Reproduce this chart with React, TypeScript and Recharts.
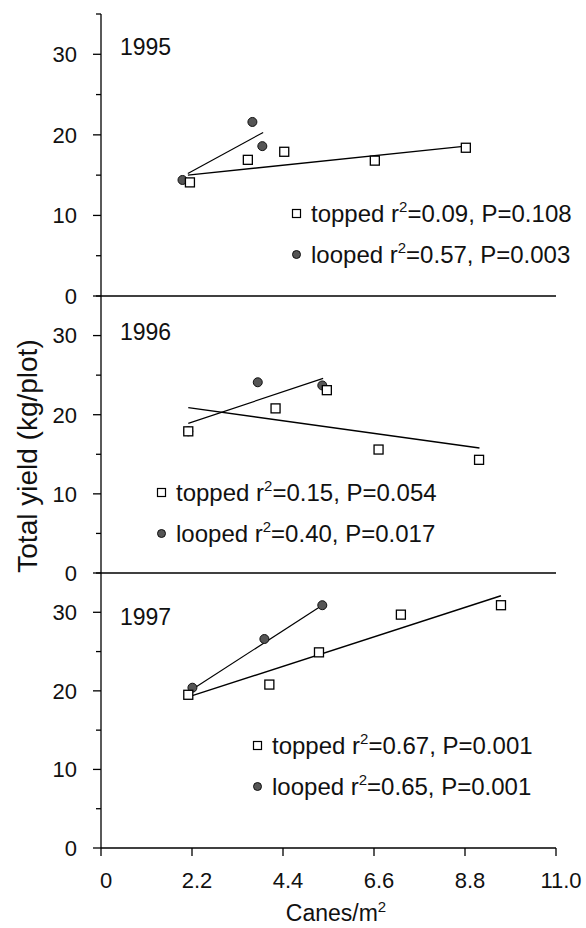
import React from "react"
import { ComposedChart, Scatter, XAxis, YAxis, Legend, Customized } from "recharts"

// axis ticks
const xTicks = [0, 2.2, 4.4, 6.6, 8.8, 11.0]
const yTicks = [0, 5, 10, 15, 20, 25, 30, 35]

const years = ["1995", "1996", "1997"]

// topped canes (open squares)
const toppedX1995 = [2.15, 3.55, 4.43, 6.62, 8.82]
const toppedY1995 = [14.1, 16.9, 17.9, 16.8, 18.4]
const toppedX1996 = [2.11, 4.22, 5.46, 6.71, 9.14]
const toppedY1996 = [17.9, 20.8, 23.1, 15.6, 14.3]
const toppedX1997 = [2.11, 4.07, 5.27, 7.25, 9.67]
const toppedY1997 = [19.5, 20.8, 24.9, 29.7, 30.9]

// looped canes (filled circles)
const loopedX1995 = [1.97, 3.66, 3.9]
const loopedY1995 = [14.4, 21.6, 18.6]
const loopedX1996 = [2.11, 3.79, 5.35]
const loopedY1996 = [17.9, 24.1, 23.7]
const loopedX1997 = [2.21, 3.95, 5.35]
const loopedY1997 = [20.4, 26.6, 30.9]

// fitted regression lines (end points)
const toppedFitX = [[2.1, 8.82], [2.11, 9.15], [2.15, 9.67]]
const toppedFitY = [[15.0, 18.6], [20.9, 15.8], [19.3, 32.1]]
const loopedFitX = [[2.1, 3.92], [2.11, 5.37], [2.21, 5.35]]
const loopedFitY = [[15.2, 20.3], [18.9, 24.6], [20.2, 30.9]]

// stats for the legends
const toppedR2 = ["0.09", "0.15", "0.67"]
const toppedP = ["0.108", "0.054", "0.001"]
const loopedR2 = ["0.57", "0.40", "0.65"]
const loopedP = ["0.003", "0.017", "0.001"]

const FONT = "'Liberation Sans', Arial, Helvetica, sans-serif"
const AXIS_X = 101
const W = 586

const zip = (xs: number[], ys: number[]) => xs.map((x, i) => ({ x, y: ys[i] }))

const toppedPts = [zip(toppedX1995, toppedY1995), zip(toppedX1996, toppedY1996), zip(toppedX1997, toppedY1997)]
const loopedPts = [zip(loopedX1995, loopedY1995), zip(loopedX1996, loopedY1996), zip(loopedX1997, loopedY1997)]

const SquareDot = (p: any) => (
  <rect x={p.cx - 4.5} y={p.cy - 4.5} width={9} height={9} fill="#fff" stroke="#000" strokeWidth={1.3} />
)
const CircleDot = (p: any) => <circle cx={p.cx} cy={p.cy} r={4.5} fill="#555" stroke="#111" strokeWidth={1} />
const NoDot = () => <g />

const YTick = (props: any) => {
  const { y, payload } = props
  const major = payload.value % 10 === 0
  return (
    <g>
      <line x1={AXIS_X - (major ? 8 : 5)} x2={AXIS_X} y1={y} y2={y} stroke="#000" strokeWidth={1.3} />
      {major && (
        <text x={AXIS_X - 24} y={y} dy="0.36em" textAnchor="end" fontSize={22} fontFamily={FONT} fill="#111">
          {payload.value}
        </text>
      )}
    </g>
  )
}

const XTick = (props: any) => {
  const { x, y, payload } = props
  return (
    <text x={x + 5} y={y} dy="0.71em" textAnchor="middle" fontSize={22} fontFamily={FONT} fill="#111">
      {payload.value === 0 ? "0" : payload.value.toFixed(1)}
    </text>
  )
}

// legend position per panel (left edge of marker, top of first row)
const legendPos = [
  { left: 291, top: 193 },
  { left: 156, top: 190 },
  { left: 252, top: 166 },
]

function StatsLegend({ i }: { i: number }) {
  const row = (kind: string, r2: string, p: string) => (
    <div style={{ display: "flex", alignItems: "center", height: 41, whiteSpace: "nowrap" }}>
      <svg width={16} height={12} style={{ marginRight: 4 }}>
        {kind === "topped" ? (
          <rect x={1.5} y={1.5} width={8} height={8} fill="#fff" stroke="#000" strokeWidth={1.2} />
        ) : (
          <circle cx={5.5} cy={5.5} r={4} fill="#555" stroke="#111" />
        )}
      </svg>
      <span>
        {kind} r<sup style={{ fontSize: 15, verticalAlign: "0.65em", lineHeight: 0 }}>2</sup>={r2}, P={p}
      </span>
    </div>
  )
  return (
    <div style={{ fontFamily: FONT, fontSize: 24, color: "#111" }}>
      {row("topped", toppedR2[i], toppedP[i])}
      {row("looped", loopedR2[i], loopedP[i])}
    </div>
  )
}

const panels = [
  { top: 0, height: 330, xh: 34, yearY: 47 },
  { top: 282, height: 325, xh: 34, yearY: 50 },
  { top: 559, height: 369, xh: 80, yearY: 58 },
]

function Panel({ i }: { i: number }) {
  const pn = panels[i]
  const last = i === 2
  return (
    <div style={{ position: "absolute", left: 0, top: pn.top }}>
      <ComposedChart width={W} height={pn.height} margin={{ top: 14, right: W - 556, bottom: 0, left: 0 }}>
        <XAxis
          type="number"
          dataKey="x"
          domain={[0, 11]}
          ticks={xTicks}
          allowDataOverflow
          height={pn.xh}
          stroke="#000"
          strokeWidth={1.3}
          tickSize={8}
          tickMargin={16}
          tickLine={{ stroke: "#000", strokeWidth: 1.3 }}
          tick={last ? <XTick /> : false}
          interval={0}
          label={
            last
              ? () => (
                  <text x={336} y={pn.height - 7} textAnchor="middle" fontSize={23} fontFamily={FONT} fill="#111">
                    Canes/m<tspan dy={-9} fontSize={15}>2</tspan>
                  </text>
                )
              : undefined
          }
        />
        <YAxis
          type="number"
          dataKey="y"
          domain={[0, 35]}
          ticks={yTicks}
          allowDataOverflow
          width={AXIS_X}
          stroke="#000"
          strokeWidth={1.3}
          tickLine={false}
          tick={<YTick />}
          interval={0}
          label={
            i === 1
              ? () => (
                  <text
                    transform={`translate(27, ${456 - pn.top}) rotate(-90)`}
                    textAnchor="middle"
                    dy="0.35em"
                    fontSize={28}
                    fontFamily={FONT}
                    fill="#111"
                  >
                    Total yield (kg/plot)
                  </text>
                )
              : undefined
          }
        />
        <Scatter
          data={zip(toppedFitX[i], toppedFitY[i])}
          line={{ stroke: "#000", strokeWidth: 1.4 }}
          shape={NoDot}
          isAnimationActive={false}
        />
        <Scatter
          data={zip(loopedFitX[i], loopedFitY[i])}
          line={{ stroke: "#000", strokeWidth: 1.2 }}
          shape={NoDot}
          isAnimationActive={false}
        />
        <Scatter data={loopedPts[i]} shape={CircleDot} isAnimationActive={false} />
        <Scatter data={toppedPts[i]} shape={SquareDot} isAnimationActive={false} />
        <Customized
          component={() => (
            <text x={120} y={pn.yearY} dy="0.36em" fontSize={23} fontFamily={FONT} fill="#111">
              {years[i]}
            </text>
          )}
        />
        <Legend
          layout="vertical"
          align="center"
          verticalAlign="middle"
          wrapperStyle={{ left: legendPos[i].left, top: legendPos[i].top, width: "auto" }}
          content={() => <StatsLegend i={i} />}
        />
      </ComposedChart>
    </div>
  )
}

export default function App() {
  return (
    <div style={{ position: "absolute", left: 0, top: 0, width: W, height: 928, background: "#fff" }}>
      <Panel i={0} />
      <Panel i={1} />
      <Panel i={2} />
    </div>
  )
}
